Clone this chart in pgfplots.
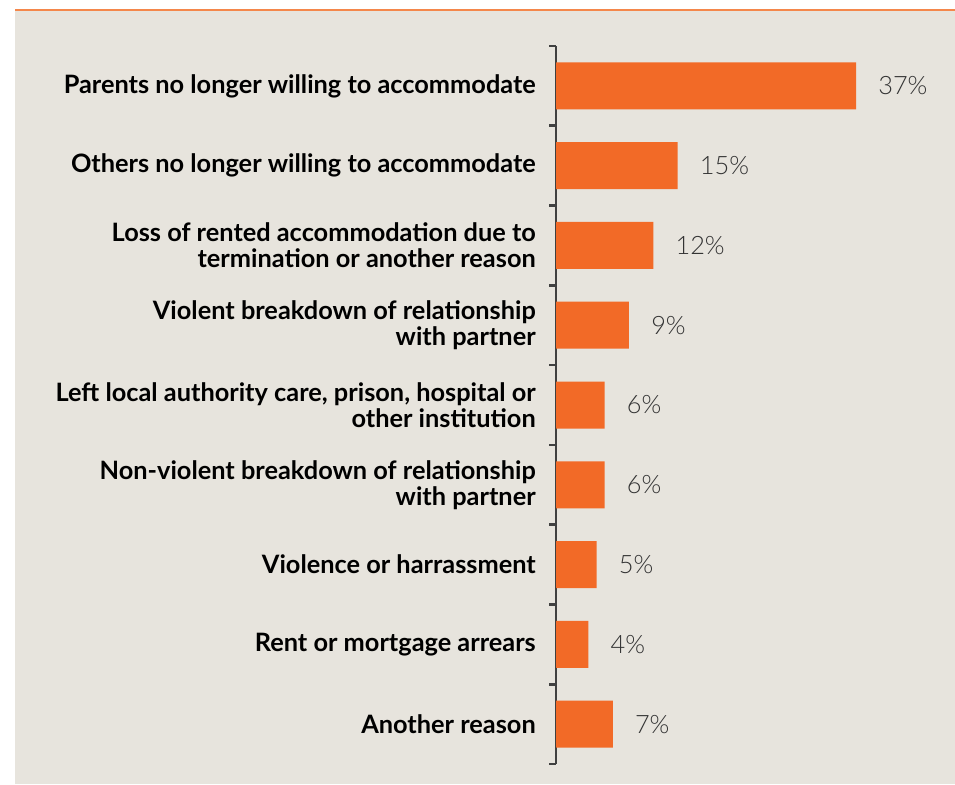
\documentclass[border=0pt]{standalone}
\usepackage{pgfplots}
\pgfplotsset{compat=1.18}
\usepackage{pgfplotstable}
\usepackage{fontspec}
\setmainfont{Lato}
\newfontfamily\lightfont{Lato Light}
\definecolor{bgbeige}{HTML}{E7E4DD}
\definecolor{barorange}{HTML}{F26A27}
\definecolor{lineorange}{HTML}{F4874B}
\definecolor{axisgray}{HTML}{404040}
\definecolor{valgray}{HTML}{333333}

% reasons, top to bottom, share in percent
\pgfplotstableread{
idx share
0 37
1 15
2 12
3 9
4 6
5 6
6 5
7 4
8 7
}\reasons

\begin{document}
\begin{tikzpicture}
  \useasboundingbox (0,0) rectangle (716.25pt,588pt);
  \fill[white] (0,0) rectangle (716.25pt,588pt);
  \fill[bgbeige] (11.25pt,0) rectangle (716.25pt,580.5pt);
  \draw[lineorange, line width=1.1pt] (11.25pt,580.5pt) -- (716.25pt,580.5pt);
  \begin{axis}[
    at={(417pt,15pt)}, anchor=south west,
    scale only axis, width=299.25pt, height=538.5pt,
    xmin=0, xmax=49.2,
    ymin=-0.5, ymax=8.5,
    y dir=reverse,
    axis x line=none,
    axis y line*=left,
    axis line style={axisgray, line width=2.2pt},
    ytick={0,...,8},
    yticklabels={
      Parents no longer willing to accommodate,
      Others no longer willing to accommodate,
      {Loss of rented accommodation due to\\termination or another reason},
      {Violent breakdown of relationship\\with partner},
      {Left local authority care, prison, hospital or\\other institution},
      {Non-violent breakdown of relationship\\with partner},
      Violence or harrassment,
      Rent or mortgage arrears,
      Another reason},
    minor ytick={-0.5,0.5,...,8.5},
    major tick length=0pt,
    minor tick length=5.25pt,
    tick align=outside,
    minor tick style={axisgray, line width=2pt},
    yticklabel style={anchor=east, align=right, inner sep=0pt, xshift=-15pt,
      font=\bfseries\fontsize{19}{19.5}\selectfont, text=black},
    /pgf/number format/assume math mode=true,
    xbar, bar width=35.25pt,
    nodes near coords={\pgfmathprintnumber{\pgfplotspointmeta}\%},
    nodes near coords style={anchor=west, inner sep=0pt, xshift=16.5pt,
      font=\lightfont\fontsize{19}{19.5}\selectfont, text=valgray},
  ]
    \addplot[fill=barorange, draw=none] table[x=share, y=idx] {\reasons};
  \end{axis}
\end{tikzpicture}
\end{document}
